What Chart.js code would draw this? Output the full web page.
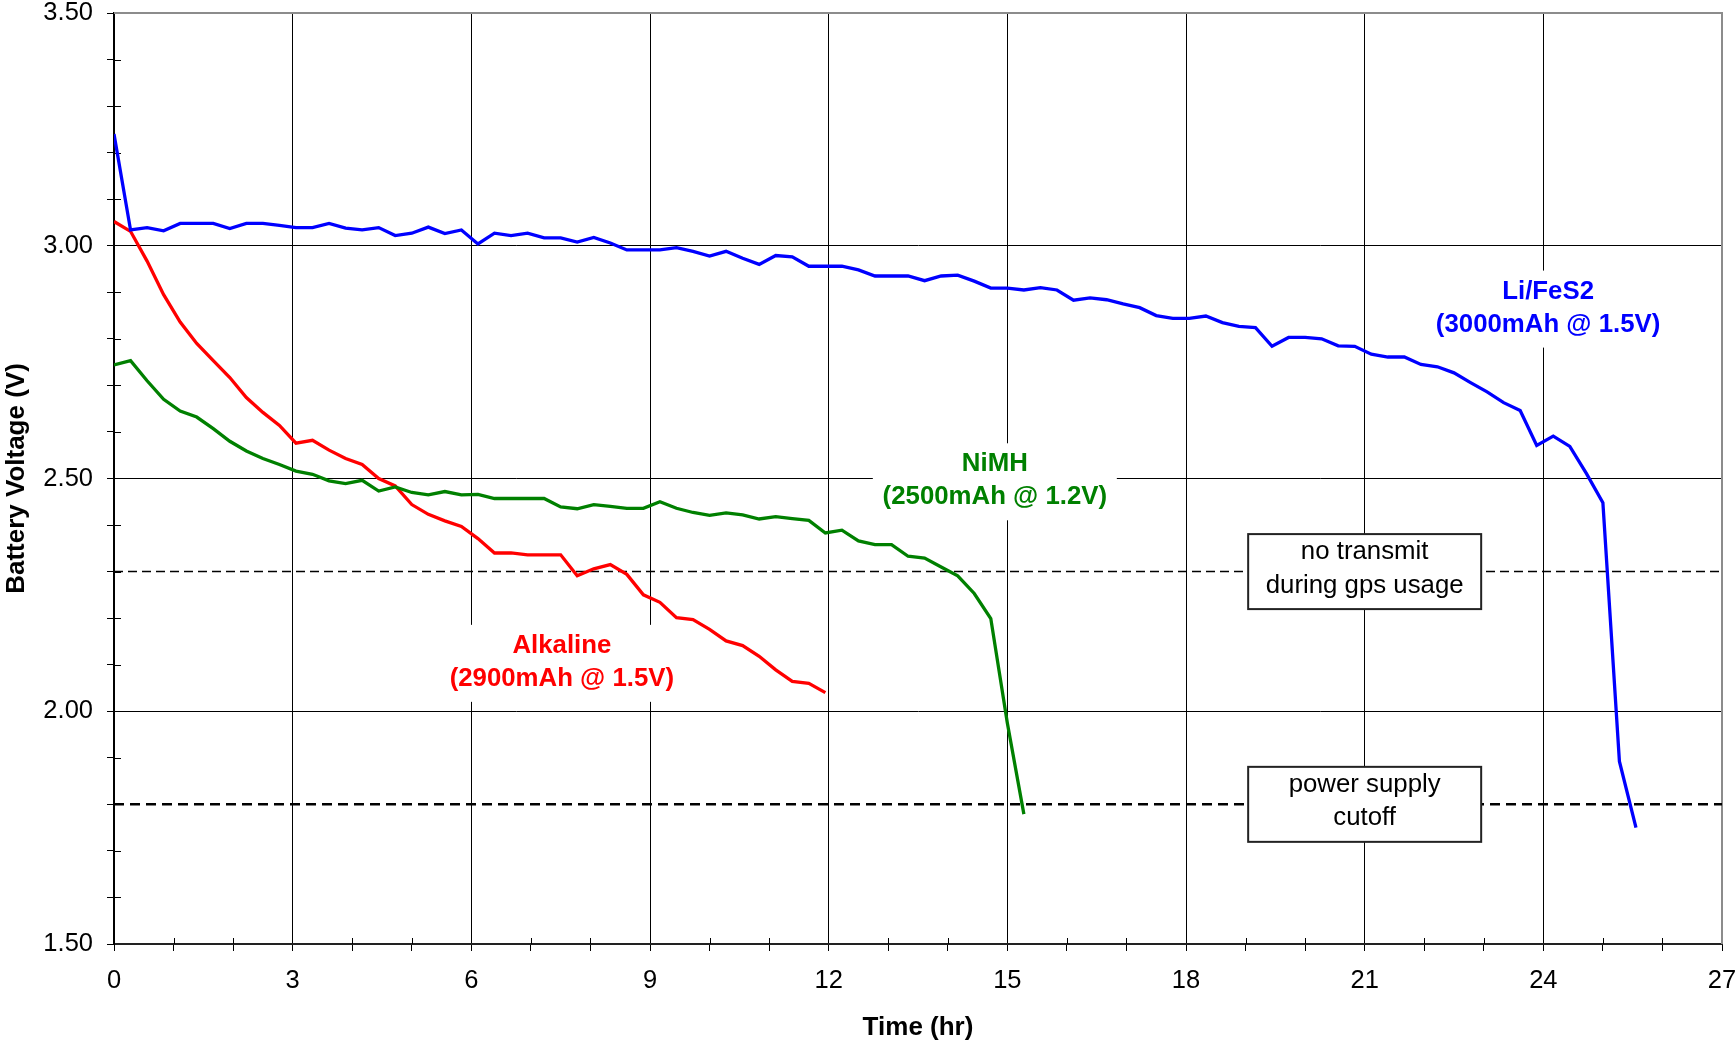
<!DOCTYPE html>
<html>
<head>
<meta charset="utf-8">
<title>Battery voltage vs time</title>
<script src="https://cdn.jsdelivr.net/npm/chart.js@4.4.1/dist/chart.umd.min.js"></script>
<style>
    html, body { margin: 0; padding: 0; background: #fff; }
    #chart { display: block; }
</style>
</head>
<body>
<canvas id="chart" width="1736" height="1043"></canvas>
<script>
// ============================================================
// Data (one sample every 1000 s)
// ============================================================

const SAMPLE_HOURS = 1000 / 3600;

const LIFES2_VOLTS = [
    3.240, 3.034, 3.039, 3.032, 3.048, 3.048, 3.048, 3.037, 3.048, 3.048,
    3.044, 3.039, 3.039, 3.048, 3.038, 3.034, 3.039, 3.022, 3.027, 3.040,
    3.026, 3.034, 3.004, 3.027, 3.022, 3.027, 3.017, 3.017, 3.008, 3.018,
    3.006, 2.991, 2.991, 2.991, 2.996, 2.988, 2.978, 2.988, 2.973, 2.960,
    2.979, 2.976, 2.956, 2.956, 2.956, 2.948, 2.935, 2.935, 2.935, 2.925,
    2.935, 2.937, 2.924, 2.909, 2.909, 2.905, 2.910, 2.905, 2.883, 2.888,
    2.884, 2.875, 2.867, 2.850, 2.844, 2.844, 2.849, 2.835, 2.827, 2.824,
    2.784, 2.803, 2.803, 2.800, 2.785, 2.784, 2.767, 2.761, 2.761, 2.745,
    2.740, 2.727, 2.706, 2.686, 2.663, 2.646, 2.571, 2.591, 2.569, 2.511,
    2.448, 1.892, 1.750
];

const NIMH_VOLTS = [
    2.744, 2.753, 2.710, 2.670, 2.645, 2.632, 2.607, 2.580, 2.559, 2.543,
    2.530, 2.516, 2.509, 2.495, 2.489, 2.496, 2.473, 2.482, 2.470, 2.465,
    2.472, 2.465, 2.466, 2.457, 2.457, 2.457, 2.457, 2.439, 2.435, 2.444,
    2.440, 2.436, 2.436, 2.450, 2.436, 2.427, 2.421, 2.426, 2.422, 2.413,
    2.418, 2.414, 2.410, 2.383, 2.389, 2.366, 2.358, 2.358, 2.333, 2.329,
    2.310, 2.291, 2.253, 2.199, 1.975, 1.779
];

const ALKALINE_VOLTS = [
    3.052, 3.031, 2.967, 2.895, 2.836, 2.790, 2.753, 2.717, 2.674, 2.642,
    2.614, 2.576, 2.582, 2.561, 2.543, 2.530, 2.500, 2.484, 2.444, 2.423,
    2.409, 2.397, 2.371, 2.340, 2.340, 2.336, 2.336, 2.336, 2.291, 2.306,
    2.315, 2.294, 2.250, 2.234, 2.201, 2.197, 2.176, 2.151, 2.141, 2.118,
    2.089, 2.064, 2.060, 2.040
];

const SERIES_NAMES = ['Li/FeS2', 'NiMH', 'Alkaline'];
const SERIES_RATINGS = ['(3000mAh @ 1.5V)', '(2500mAh @ 1.2V)', '(2900mAh @ 1.5V)'];
const SERIES_COLORS = ['#0000ff', '#008000', '#ff0000'];

const LIMIT_VOLTS = [2.3, 1.8];
const LIMIT_TEXT = [['no transmit', 'during gps usage'], ['power supply', 'cutoff']];

// axis range / ticks
const X_MIN = 0, X_MAX = 27, X_MINOR = 1, X_MAJOR = 3;
const Y_MIN = 1.5, Y_MAX = 3.5, Y_MINOR = 0.1, Y_MAJOR = 0.5;

// ============================================================
// Layout & styling
// ============================================================

const FONT = '"Liberation Sans", Arial, sans-serif';
const PLOT_LEFT = 114;
const PLOT_TOP = 13;
const PLOT_RIGHT_GAP = 14;
const X_AXIS_HEIGHT = 99;

// where the text boxes sit, in data units
const SERIES_LABEL_AT = [
    { hr: 24.08, v: 2.865 },
    { hr: 14.79, v: 2.494 },
    { hr: 7.52, v: 2.104 }
];
const LIMIT_BOX_HR = 21;

function isMultiple(value, step) {
    const r = value / step;
    return Math.abs(r - Math.round(r)) < 1e-6;
}

function toPoints(values) {
    return values.map((v, i) => ({ x: i * SAMPLE_HOURS, y: v }));
}

// scales must not push the plot area around for overhanging labels
function noOverhang(scale) {
    scale.paddingTop = 0;
    scale.paddingBottom = 0;
    scale.paddingLeft = 0;
    scale.paddingRight = 0;
}

// ============================================================
// Custom drawing: border, crossing minor ticks, limits, labels
// ============================================================

const decorations = {
    id: 'decorations',
    beforeDatasetsDraw(chart) {
        const { ctx, chartArea: area, scales: { x, y } } = chart;
        ctx.save();

        // minor ticks cross the axis: draw the inner half
        ctx.strokeStyle = '#000';
        ctx.lineWidth = 1;
        ctx.beginPath();
        x.ticks.forEach(t => {
            if (isMultiple(t.value, X_MAJOR)) return;
            const px = Math.round(x.getPixelForValue(t.value)) + 0.5;
            ctx.moveTo(px, area.bottom);
            ctx.lineTo(px, area.bottom - 6);
        });
        y.ticks.forEach(t => {
            if (isMultiple(t.value, Y_MAJOR)) return;
            const py = Math.round(y.getPixelForValue(t.value)) + 0.5;
            ctx.moveTo(area.left, py);
            ctx.lineTo(area.left + 7, py);
        });
        ctx.stroke();

        // grey plot border (top + right)
        ctx.strokeStyle = '#8c8c8c';
        ctx.lineWidth = 2;
        ctx.beginPath();
        ctx.moveTo(area.left, area.top);
        ctx.lineTo(area.right, area.top);
        ctx.lineTo(area.right, area.bottom);
        ctx.stroke();

        // dashed limit lines
        LIMIT_VOLTS.forEach((volts, i) => {
            const py = y.getPixelForValue(volts);
            ctx.strokeStyle = '#000';
            ctx.lineWidth = i === 0 ? 1.5 : 2.5;
            ctx.setLineDash(i === 0 ? [9, 5] : [10, 6]);
            ctx.beginPath();
            ctx.moveTo(area.left, py);
            ctx.lineTo(area.right, py);
            ctx.stroke();
        });
        ctx.setLineDash([]);

        // limit boxes
        ctx.font = '25.8px ' + FONT;
        ctx.textAlign = 'center';
        ctx.textBaseline = 'alphabetic';
        LIMIT_VOLTS.forEach((volts, i) => {
            const cx = x.getPixelForValue(LIMIT_BOX_HR);
            const cy = y.getPixelForValue(volts);
            const w = 233, h = 75;
            ctx.fillStyle = '#fff';
            ctx.fillRect(cx - w / 2, cy - h / 2, w, h);
            ctx.strokeStyle = '#222';
            ctx.lineWidth = 2;
            ctx.strokeRect(cx - w / 2, cy - h / 2, w, h);
            ctx.fillStyle = '#000';
            ctx.fillText(LIMIT_TEXT[i][0], cx, cy - 12.5);
            ctx.fillText(LIMIT_TEXT[i][1], cx, cy + 21);
        });

        // series labels on white boxes
        ctx.font = 'bold 25.8px ' + FONT;
        SERIES_NAMES.forEach((name, i) => {
            const cx = x.getPixelForValue(SERIES_LABEL_AT[i].hr);
            const cy = y.getPixelForValue(SERIES_LABEL_AT[i].v);
            ctx.fillStyle = '#fff';
            ctx.fillRect(cx - 122, cy - 38, 244, 77);
            ctx.fillStyle = SERIES_COLORS[i];
            ctx.fillText(name, cx, cy - 10);
            ctx.fillText(SERIES_RATINGS[i], cx, cy + 23);
        });

        ctx.restore();
    }
};

// ============================================================
// Chart
// ============================================================

const seriesValues = [LIFES2_VOLTS, NIMH_VOLTS, ALKALINE_VOLTS];

new Chart(document.getElementById('chart'), {
    type: 'line',
    data: {
        datasets: seriesValues.map((values, i) => ({
            label: SERIES_NAMES[i],
            data: toPoints(values),
            borderColor: SERIES_COLORS[i],
            backgroundColor: SERIES_COLORS[i],
            borderWidth: 3.3,
            pointRadius: 0,
            tension: 0,
            fill: false
        }))
    },
    options: {
        responsive: false,
        animation: false,
        devicePixelRatio: 1,
        layout: {
            padding: { top: PLOT_TOP, right: PLOT_RIGHT_GAP, bottom: 0, left: 0 }
        },
        plugins: {
            legend: { display: false },
            tooltip: { enabled: false }
        },
        scales: {
            x: {
                type: 'linear',
                min: X_MIN,
                max: X_MAX,
                ticks: {
                    stepSize: X_MINOR,
                    autoSkip: false,
                    maxRotation: 0,
                    padding: 15,
                    color: '#000',
                    font: { family: FONT, size: 25.5 },
                    callback: v => isMultiple(v, X_MAJOR) ? String(v) : ''
                },
                grid: {
                    color: c => (isMultiple(c.tick.value, X_MAJOR) && c.tick.value > X_MIN && c.tick.value < X_MAX)
                        ? '#000' : 'rgba(0,0,0,0)',
                    tickColor: '#000',
                    tickLength: 7,
                    lineWidth: 1
                },
                border: { color: '#222', width: 2 },
                title: {
                    display: true,
                    text: 'Time (hr)',
                    color: '#000',
                    font: { family: FONT, size: 26, weight: 'bold' },
                    padding: { top: 0, bottom: 0 }
                },
                afterFit: s => { s.height = X_AXIS_HEIGHT; noOverhang(s); }
            },
            y: {
                type: 'linear',
                min: Y_MIN,
                max: Y_MAX,
                ticks: {
                    stepSize: Y_MINOR,
                    autoSkip: false,
                    padding: 14,
                    color: '#000',
                    font: { family: FONT, size: 25.5 },
                    callback: v => isMultiple(v, Y_MAJOR) ? v.toFixed(2) : ''
                },
                grid: {
                    color: c => (isMultiple(c.tick.value, Y_MAJOR) && c.tick.value > Y_MIN && c.tick.value < Y_MAX)
                        ? '#000' : 'rgba(0,0,0,0)',
                    tickColor: '#000',
                    tickLength: 7,
                    lineWidth: 1
                },
                border: { color: '#000', width: 2 },
                title: {
                    display: true,
                    text: 'Battery Voltage (V)',
                    color: '#000',
                    font: { family: FONT, size: 26, weight: 'bold' },
                    padding: { top: 1, bottom: 0 }
                },
                afterFit: s => { s.width = PLOT_LEFT; noOverhang(s); }
            }
        }
    },
    plugins: [decorations]
});
</script>
</body>
</html>
